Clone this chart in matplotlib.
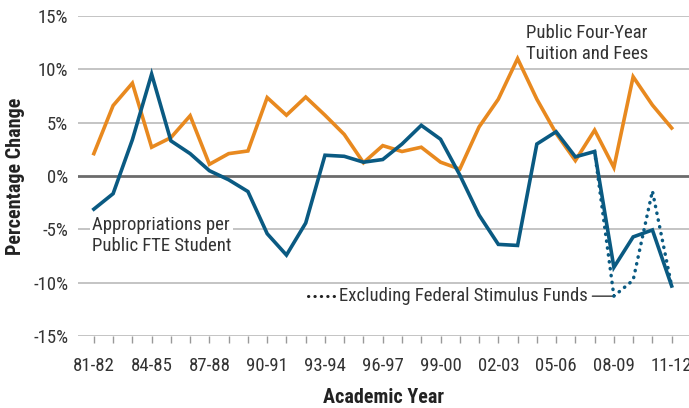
import numpy as np
import matplotlib
matplotlib.use('Agg')
import matplotlib.pyplot as plt

years = ['81-82', '82-83', '83-84', '84-85', '85-86', '86-87', '87-88', '88-89',
         '89-90', '90-91', '91-92', '92-93', '93-94', '94-95', '95-96', '96-97',
         '97-98', '98-99', '99-00', '00-01', '01-02', '02-03', '03-04', '04-05',
         '05-06', '06-07', '07-08', '08-09', '09-10', '10-11', '11-12']

# tuition and fees, public four-year
tuition = [2.1, 6.6, 8.7, 2.7, 3.6, 5.65, 1.1, 2.1, 2.35, 7.35, 5.7, 7.4, 5.7, 3.9,
           1.25, 2.85, 2.3, 2.7, 1.3, 0.65, 4.6, 7.2, 11.0, 7.2, 4.0, 1.45, 4.3,
           0.8, 9.3, 6.65, 4.5]

# appropriations per public FTE student
approp = [-3.1, -1.65, 3.4, 9.55, 3.3, 2.1, 0.5, -0.35, -1.45, -5.4, -7.4, -4.4,
          1.95, 1.85, 1.3, 1.55, 3.0, 4.75, 3.45, 0.1, -3.65, -6.4, -6.5, 3.0,
          4.15, 1.8, 2.3, -8.55, -5.7, -5.05, -10.3]

# excluding federal stimulus funds (07-08 .. 11-12)
stim_idx = [26, 27, 28, 29, 30]
stim = [2.3, -11.25, -9.75, -1.4, -10.3]

orange = '#E8891F'
blue = '#0A5A82'

plt.rcParams['font.family'] = ['Roboto Condensed', 'DejaVu Sans']

fig = plt.figure(figsize=(6.89, 4.08), dpi=100)
ax = fig.add_axes([0.113, 0.176, 0.887, 0.785])

x = np.arange(len(years))

for v in [15, 10, 5, -5, -10, -15]:
    ax.axhline(v, color='#b4b4b4', lw=1.1, zorder=1)
ax.axhline(0, color='#6b6b6b', lw=2.0, zorder=1)

ax.plot(x, tuition, color=orange, lw=2.6, zorder=3, solid_joinstyle='miter')
ax.plot(stim_idx, stim, color=blue, lw=2.5, ls=(0, (0.1, 1.9)),
        dash_capstyle='round', zorder=4)
ax.plot(x, approp, color=blue, lw=2.6, zorder=5, solid_joinstyle='miter')

ax.set_xlim(-0.83, 30.9)
ax.set_ylim(-15, 15)
ax.set_yticks([15, 10, 5, 0, -5, -10, -15])
ax.set_yticklabels(['15%', '10%', '5%', '0%', '-5%', '-10%', '-15%'])
ax.set_xticks(x)
ax.set_xticklabels([y if i % 3 == 0 else '' for i, y in enumerate(years)])

for s in ax.spines.values():
    s.set_visible(False)
ax.tick_params(axis='y', length=0, pad=7, labelsize=13.5, labelcolor='#333333')
ax.tick_params(axis='x', length=5, width=1, color='#999999', pad=10,
               labelsize=13.5, labelcolor='#333333')

ax.set_ylabel('Percentage Change', fontsize=14.5, fontweight='bold',
              color='#222222')
ax.yaxis.set_label_coords(-0.087, 0.5)
ax.set_xlabel('Academic Year', fontsize=14.5, fontweight='bold',
              color='#222222')
ax.xaxis.set_label_coords(0.5, -0.163)

ax.text(22.45, 10.6, 'Public Four-Year\nTuition and Fees', fontsize=13.5,
        color='#333333', va='bottom', ha='left', linespacing=1.2)

ax.text(-0.1, -5.55, 'Appropriations per\nPublic FTE Student', fontsize=13.5,
        color='#333333', va='center', ha='left', linespacing=1.2, zorder=2,
        bbox=dict(facecolor='white', edgecolor='none', pad=1.5))

ax.plot([11.1, 12.45], [-11.25, -11.25], color='#222222', lw=2.2,
        ls=(0, (0.1, 2.0)), dash_capstyle='round', zorder=4)
ax.annotate('Excluding Federal Stimulus Funds', xy=(27, stim[1]),
            xytext=(12.75, stim[1]), fontsize=13.5, color='#333333',
            va='center', ha='left',
            arrowprops=dict(arrowstyle='-', color='#333333', lw=1,
                            shrinkA=1, shrinkB=0))

fig.savefig('out.png', dpi=100)
